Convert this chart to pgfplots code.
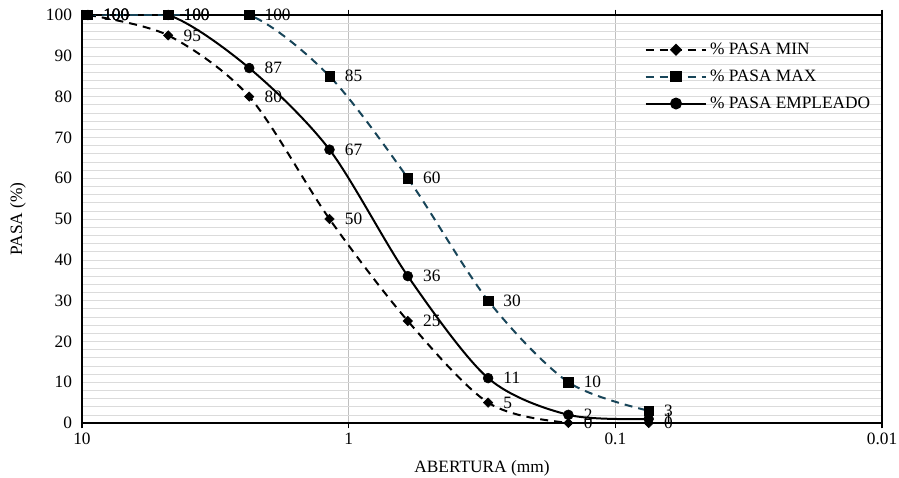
\documentclass[border=0pt]{standalone}
\usepackage{fontspec}
\setmainfont{Liberation Serif}
\usepackage{pgfplots}
\pgfplotsset{compat=1.18}
\definecolor{maxc}{RGB}{24,69,89}
\pgfplotsset{
  minstyle/.style={black, line width=1.5pt, dash pattern=on 6pt off 4.5pt},
  maxstyle/.style={maxc, line width=1.5pt, dash pattern=on 6pt off 4.5pt},
  empstyle/.style={black, line width=1.5pt},
  minmark/.style={mark=square*, mark size=2.5pt, mark options={solid, fill=black, draw=black, rotate=45}},
  maxmark/.style={mark=square*, mark size=3.5pt, mark options={solid, fill=black, draw=black}},
  empmark/.style={mark=*, mark size=3.7pt, mark options={solid, fill=black, draw=black}},
}
\newcommand{\fs}{\fontsize{13}{15.6}\selectfont}
\begin{document}
\begin{tikzpicture}
\useasboundingbox (-61.5pt,-41.25pt) rectangle (612.75pt,317.25pt);
\begin{axis}[
  at={(0,0)}, anchor=south west,
  scale only axis, width=600pt, height=306pt,
  xmode=log, x dir=reverse, xmin=0.01, xmax=10,
  ymin=0, ymax=100,
  xtick={10,1,0.1,0.01}, xticklabels={10,1,0.1,0.01},
  ytick={0,10,...,100},
  minor y tick num=4,
  /pgf/number format/assume math mode=true,
  tick label style={font=\fs},
  label style={font=\fs},
  xlabel={ABERTURA (mm)}, ylabel={PASA (\%)},
  xlabel style={at={(rel axis cs:0.5,0)}, yshift=-34pt, anchor=center},
  ylabel style={at={(rel axis cs:0,0.5)}, anchor=center, yshift=48pt},
  xmajorgrids, ymajorgrids, xminorgrids, yminorgrids,
  x grid style={gray!50},
  y grid style={gray!28},
  minor grid style={gray!10},
  axis line style={line width=1pt},
  tick align=outside, major tick length=4pt, minor tick length=0pt,
  ytick style={draw=none},
  xtick style={black, line width=0.8pt},
  clip=true,
]
\addplot[minstyle, smooth] coordinates {(9.5,100) (4.75,95) (2.36,80) (1.18,50) (0.6,25) (0.3,5) (0.15,0) (0.075,0)};
\addplot[maxstyle, smooth] coordinates {(9.5,100) (4.75,100) (2.36,100) (1.18,85) (0.6,60) (0.3,30) (0.15,10) (0.075,3)};
\addplot[empstyle, smooth] coordinates {(9.5,100) (4.75,100) (2.36,87) (1.18,67) (0.6,36) (0.3,11) (0.15,2) (0.075,1)};
\end{axis}
\begin{axis}[
  at={(0,0)}, anchor=south west,
  scale only axis, width=600pt, height=306pt,
  xmode=log, x dir=reverse, xmin=0.01, xmax=10,
  ymin=0, ymax=100,
  hide axis, clip=false,
  legend style={draw=none, fill=none, at={(0.698,0.945)}, anchor=north west,
    font=\fs, row sep=6pt, cells={anchor=west}},
  legend image code/.code={\draw[mark repeat=2,mark phase=2,#1] plot coordinates {(0cm,0cm) (0.8cm,0cm) (1.6cm,0cm)};},
  nodes near coords, point meta=explicit symbolic,
  every node near coord/.style={anchor=west, xshift=8pt, font=\fs, black},
]
\addplot[only marks, minmark, forget plot] coordinates {(9.5,100)[100] (4.75,95)[95] (2.36,80)[80] (1.18,50)[50] (0.6,25)[25] (0.3,5)[5] (0.15,0)[0] (0.075,0)[0]};
\addplot[only marks, maxmark, forget plot] coordinates {(9.5,100)[100] (4.75,100)[100] (2.36,100)[100] (1.18,85)[85] (0.6,60)[60] (0.3,30)[30] (0.15,10)[10] (0.075,3)[3]};
\addplot[only marks, empmark, forget plot] coordinates {(9.5,100)[100] (4.75,100)[100] (2.36,87)[87] (1.18,67)[67] (0.6,36)[36] (0.3,11)[11] (0.15,2)[2] (0.075,1)[1]};
\addlegendimage{minstyle, minmark}
\addlegendentry{\% PASA MIN}
\addlegendimage{maxstyle, maxmark}
\addlegendentry{\% PASA MAX}
\addlegendimage{empstyle, empmark}
\addlegendentry{\% PASA EMPLEADO}
\end{axis}
\end{tikzpicture}
\end{document}
